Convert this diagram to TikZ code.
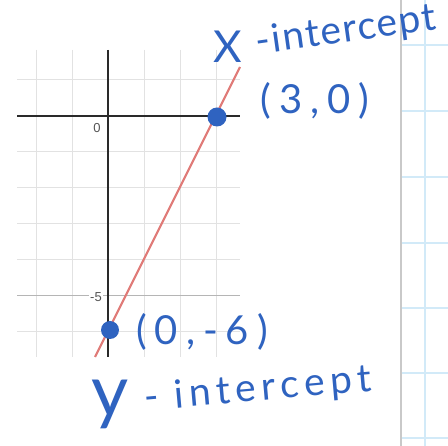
\documentclass[tikz,border=0pt]{standalone}
\usepackage{fontspec}
\setmainfont{Liberation Sans}
\newfontfamily\hand[LetterSpace=20]{Lato}
\newfontfamily\handword[LetterSpace=4]{Lato}
\newfontfamily\handwide[LetterSpace=14]{Lato}
\newfontfamily\handplain{Lato}
\definecolor{ink}{HTML}{2F63C0}
\definecolor{gridc}{HTML}{E2E2E2}
\definecolor{redl}{HTML}{E07B78}
\definecolor{paperblue}{HTML}{D2EAF8}
\definecolor{papergray}{HTML}{C9C9C9}
\definecolor{axisc}{HTML}{2A2A2A}
\definecolor{ticklab}{HTML}{555555}
\begin{document}
\begin{tikzpicture}[x=1pt,y=-1pt,
  handtext/.style={text=ink, font=\hand\fontsize{40}{40}\selectfont, inner sep=0pt},
  handwords/.style={text=ink, font=\handword\fontsize{39}{39}\selectfont, inner sep=0pt},
  handwidewords/.style={text=ink, font=\handwide\fontsize{39}{39}\selectfont, inner sep=0pt},
  handbig/.style={text=ink, font=\handplain\fontsize{44}{44}\selectfont, inner sep=0pt},
  gridline/.style={draw=gridc, line width=1pt},
  axisline/.style={draw=axisc, line width=1.8pt},
  paperline/.style={draw=paperblue, line width=1.2pt},
  dot/.style={circle, fill=ink, inner sep=0pt, minimum size=19pt},
  ticklabel/.style={text=ticklab, font=\fontsize{13}{13}\selectfont, inner sep=0pt}]
\useasboundingbox (0,0) rectangle (448,446);
\fill[white] (0,0) rectangle (448,446);
% notebook paper on the right
\foreach \yy in {45,111,177,243,308,373,438} \draw[paperline] (401,\yy) -- (448,\yy);
\draw[paperline] (425,0) -- (425,446);
\draw[draw=papergray, line width=1.6pt] (401,0) -- (401,446);
% grid
\foreach \xx in {36,72,144,180,216} \draw[gridline] (\xx,50) -- (\xx,357);
\foreach \yy in {80,152,188,224,260,332} \draw[gridline] (17,\yy) -- (240,\yy);
\draw[draw=gridc!80!black, line width=1pt] (17,296) -- (240,296);
% axes
\draw[axisline] (17,116) -- (240,116);
\draw[axisline] (108,50) -- (108,357);
\node[ticklabel] (zero) at (97,128) {0};
\node[ticklabel, fill=white, inner sep=1pt] (five) at (96,297) {-5};
% line y = 2x - 6
\coordinate (ltop) at (240,67);
\coordinate (lbot) at (95,357);
\draw[draw=redl, line width=2.2pt] (lbot) -- (ltop);
% intercept points
\node[dot] (xint) at (217,117) {};
\node[dot, minimum size=18pt] (yint) at (110,330) {};
% handwritten labels
\node[handbig] (xlab) at (228,47) {X};
\node[handwords, rotate=8] (xword) at (346,31) {-intercept};
\node[handtext] (xpt) at (315,101) {(3,0)};
\node[handtext] (ypt) at (202,332) {(0,-6)};
\node[text=ink, font=\handplain\fontsize{72}{72}\selectfont, inner sep=0pt] (ylab) at (110,404) {y};
\node[handwidewords, rotate=5] (yword) at (258,390) {- intercept};
\end{tikzpicture}
\end{document}
